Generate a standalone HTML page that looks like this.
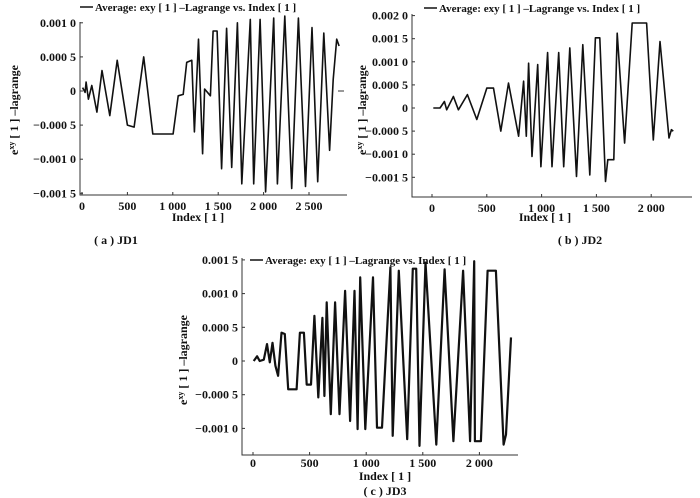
<!DOCTYPE html>
<html><head><meta charset="utf-8">
<style>
body{margin:0;background:#fff;}
svg{display:block;font-family:"Liberation Serif","Noto Serif CJK SC",serif;}
text{fill:#111;}
</style></head>
<body>
<svg id="chart" width="700" height="498" viewBox="0 0 700 498" xmlns="http://www.w3.org/2000/svg"></svg>
<script>
// Panel A (JD1)
const aIdx=[7,34,45,71,108,164,220,306,388,500,574,679,780,1003,1059,1115,1153,1209,1238,1283,1328,1350,1414,1444,1488,1537,1593,1649,1712,1760,1854,1891,1962,2022,2111,2152,2234,2309,2383,2462,2533,2596,2663,2727,2767,2805,2831];
const aVal=[0.00005,-0.00002,0.00013,-0.00012,0.00008,-0.00031,0.0003,-0.00036,0.00045,-0.0005,-0.00053,0.0005,-0.00063,-0.00063,-0.00007,-0.00005,0.00042,0.00045,-0.0006,0.00076,-0.00092,0.00003,-0.00007,0.00088,0.00088,-0.00114,0.00092,-0.00112,0.001,-0.00136,0.00105,-0.00136,0.00105,-0.00148,0.00107,-0.00136,0.0011,-0.00143,0.00107,-0.0014,0.00093,-0.00133,0.00085,-0.00087,0.00017,0.00076,0.00066];
const aXTicks=[0,500,1000,1500,2000,2500];
const aXLabels=["0","500","1 000","1 500","2 000","2 500"];
const aYTicks=[0.001,0.0005,0,-0.0005,-0.001,-0.0015];
const aYLabels=["0.001 0","0.000 5","0","\u22120.000 5","\u22120.001 0","\u22120.001 5"];
// Panel B (JD2)
const bIdx=[12,73,113,134,195,241,323,409,500,561,628,698,790,836,860,881,912,964,994,1055,1095,1156,1202,1257,1318,1376,1440,1491,1531,1583,1604,1659,1690,1757,1827,1958,2019,2080,2162,2184,2202];
const bVal=[0,0,0.00014,-0.00004,0.00025,-0.00004,0.00029,-0.00025,0.00043,0.00043,-0.0005,0.00054,-0.00061,0.00058,-0.00061,0.00097,-0.00105,0.00094,-0.00127,0.0012,-0.00127,0.0012,-0.00127,0.0013,-0.00148,0.00137,-0.00145,0.00152,0.00152,-0.00159,-0.00112,-0.00112,0.00162,-0.00076,0.00184,0.00184,-0.00069,0.00144,-0.00065,-0.00047,-0.0005];
const bXTicks=[0,500,1000,1500,2000];
const bXLabels=["0","500","1 000","1 500","2 000"];
const bYTicks=[0.002,0.0015,0.001,0.0005,0,-0.0005,-0.001,-0.0015];
const bYLabels=["0.002 0","0.001 5","0.001 0","0.000 5","0","\u22120.000 5","\u22120.001 0","\u22120.001 5"];
// Panel C (JD3)
const cIdx=[6,36,59,95,124,148,172,198,222,252,281,311,385,414,450,474,512,542,577,613,631,651,687,725,764,814,858,897,924,947,992,1060,1095,1140,1214,1234,1288,1362,1412,1442,1471,1524,1619,1693,1770,1856,1918,1954,1960,2013,2072,2146,2214,2235,2279];
const cVal=[0,0.00007,0,0.00002,0.00025,-0.00002,0.00027,-0.00007,-0.00022,0.00042,0.0004,-0.00042,-0.00042,0.00042,0.00042,-0.00035,-0.00035,0.00067,-0.00054,0.00064,-0.00052,0.00087,-0.00079,0.00087,-0.00079,0.00104,-0.00089,0.00104,-0.00101,0.00124,-0.00101,0.00124,-0.00099,-0.00099,0.00139,-0.00111,0.00134,-0.00116,0.00137,0.00137,-0.00126,0.00146,-0.00124,0.00136,-0.00119,0.00134,-0.00119,0.00148,-0.00119,-0.00119,0.00134,0.00134,-0.00124,-0.00109,0.00035];
const cXTicks=[0,500,1000,1500,2000];
const cXLabels=["0","500","1 000","1 500","2 000"];
const cYTicks=[0.0015,0.001,0.0005,0,-0.0005,-0.001];
const cYLabels=["0.001 5","0.001 0","0.000 5","0","\u22120.000 5","\u22120.001 0"];

const NS="http://www.w3.org/2000/svg";
const svg=document.getElementById('chart');
function mk(tag,attrs,parent){const e=document.createElementNS(NS,tag);for(const k in attrs)e.setAttribute(k,attrs[k]);(parent||svg).appendChild(e);return e;}

function panel(cfg){
  const g=mk('g',{});
  
  
  const sx=v=>cfg.x0+(v/500)*cfg.xPer500;
  const sy=v=>cfg.y0-(v/0.0005)*cfg.yPer5;
  const ax=mk('path',{d:`M${cfg.axL},${cfg.axTop} V${cfg.axBot} H${cfg.axR}`,fill:'none',stroke:'#333','stroke-width':1},g);
  
  
  cfg.xt.forEach((t,i)=>{
    const x=sx(t);
    mk('line',{x1:x,x2:x,y1:cfg.axBot,y2:cfg.axBot-3,stroke:'#333'},g);
    const tx=mk('text',{x:x,y:cfg.axBot+cfg.tickOff,'text-anchor':'middle','font-size':12,'font-weight':'bold'},g);
    tx.textContent=cfg.xl[i];
    
    
  });
  cfg.yt.forEach((t,i)=>{
    const y=sy(t);
    mk('line',{x1:cfg.axL,x2:cfg.axL+3,y1:y,y2:y,stroke:'#333'},g);
    const tx=mk('text',{x:cfg.axL-4,y:y+4,'text-anchor':'end','font-size':12,'font-weight':'bold'},g);
    tx.textContent=cfg.yl[i];
    
    
  });
  const pts=cfg.idx.map((v,i)=>sx(v).toFixed(1)+','+sy(cfg.val[i]).toFixed(1)).join(' ');
  const pl=mk('polyline',{points:pts,fill:'none',stroke:'#111','stroke-width':cfg.lw,'stroke-linejoin':'round'},g);
  
  
  mk('line',{x1:cfg.legX,x2:cfg.legX+13,y1:cfg.legY-4,y2:cfg.legY-4,stroke:'#111','stroke-width':1.5},g);
  const lt=mk('text',{x:cfg.legX+15,y:cfg.legY,'font-size':11,'font-weight':'bold'},g);
  lt.textContent='Average: exy [ 1 ] \u2013Lagrange vs. Index [ 1 ]';
  
  
  const xt=mk('text',{x:cfg.xTitleX,y:cfg.xTitleY,'text-anchor':'middle','font-size':12,'font-weight':'bold'},g);
  xt.textContent='Index [ 1 ]';
  
  
  const yt=mk('text',{x:0,y:0,'text-anchor':'middle','font-size':12,'font-weight':'bold',transform:`translate(${cfg.yTitleX},${cfg.yTitleY}) rotate(-90)`},g);
  yt.innerHTML='e<tspan font-size="8" dy="-4">xy</tspan><tspan dy="4"> [ 1 ] \u2013lagrange</tspan>';
  
  
  const cp=mk('text',{x:cfg.capX,y:cfg.capY,'text-anchor':'middle','font-size':12,'font-weight':'bold'},g);
  cp.textContent=cfg.cap;
  
  
}

panel({name:'panel-jd1',x0:82,xPer500:45.4,y0:91,yPer5:34.1,axL:80,axTop:22,axBot:195,axR:347,lw:1.6,tickOff:15,
  xt:aXTicks,xl:aXLabels,yt:aYTicks,yl:aYLabels,idx:aIdx,val:aVal,legX:80,legY:11,
  xTitleX:198,xTitleY:221,yTitleX:18,yTitleY:110,capX:116,capY:244,cap:'( a ) JD1'});
panel({name:'panel-jd2',x0:432,xPer500:54.8,y0:108,yPer5:23.1,axL:412,axTop:14,axBot:197,axR:692,lw:1.6,tickOff:15,
  xt:bXTicks,xl:bXLabels,yt:bYTicks,yl:bYLabels,idx:bIdx,val:bVal,legX:424,legY:12,
  xTitleX:545,xTitleY:221,yTitleX:366,yTitleY:110,capX:580,capY:244,cap:'( b ) JD2'});
panel({name:'panel-jd3',x0:253,xPer500:56.6,y0:361,yPer5:33.7,axL:242,axTop:258,axBot:455,axR:518,lw:2.2,tickOff:12,
  xt:cXTicks,xl:cXLabels,yt:cYTicks,yl:cYLabels,idx:cIdx,val:cVal,legX:250,legY:264,
  xTitleX:385,xTitleY:480,yTitleX:187,yTitleY:360,capX:385,capY:495,cap:'( c ) JD3'});
const dash=mk('line',{x1:338,x2:344,y1:91,y2:91,stroke:'#333','stroke-width':1});


</script>
</body></html>
